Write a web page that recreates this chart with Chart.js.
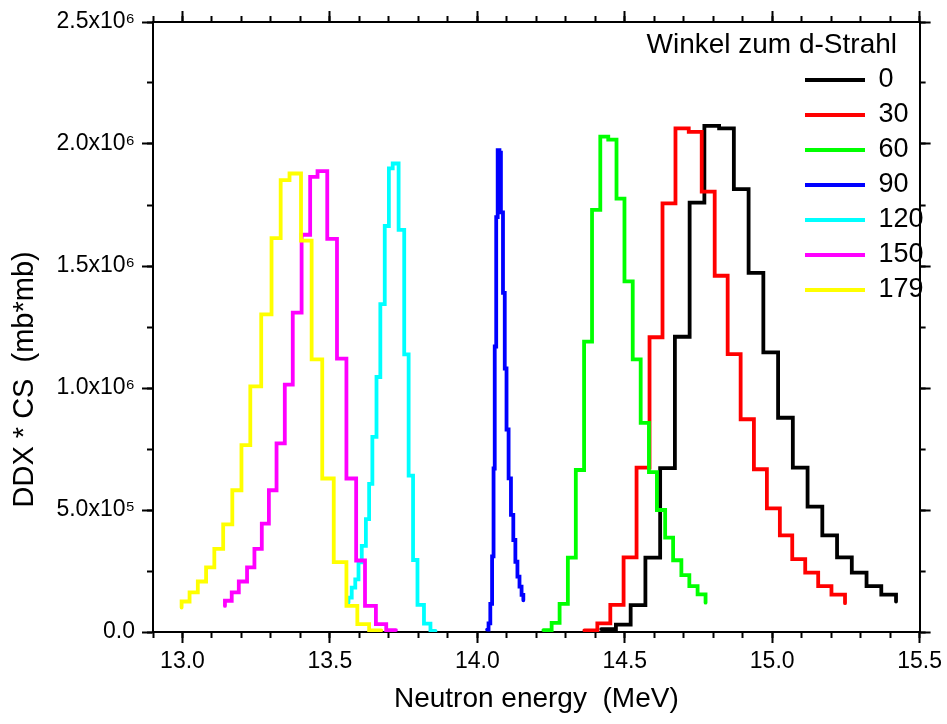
<!DOCTYPE html>
<html>
<head>
<meta charset="utf-8">
<script src="https://cdn.jsdelivr.net/npm/chart.js@4/dist/chart.umd.min.js"></script>
<style>
html, body { margin: 0; padding: 0; background: #ffffff; }
canvas { display: block; }
</style>
</head>
<body>
<canvas id="c" width="947" height="724"></canvas>
<script>
// ---------- axis ticks ----------
const xTickValues = [13.0, 13.5, 14.0, 14.5, 15.0, 15.5];
const xTickLabels = ['13.0', '13.5', '14.0', '14.5', '15.0', '15.5'];
const yTickValues = [0, 5e5, 1e6, 1.5e6, 2e6, 2.5e6];
const yTickLabels = ['0.0', '5.0x10\u2075', '1.0x10\u2076', '1.5x10\u2076', '2.0x10\u2076', '2.5x10\u2076'];

// ---------- series (neutron energy in MeV, DDX*CS in mb*mb) ----------
const angleLabels = ['0', '30', '60', '90', '120', '150', '179'];
const angleColors = ['#000000', '#ff0000', '#00ff00', '#0000ff', '#00ffff', '#ff00ff', '#ffff00'];

const energy0 = [14.42, 14.47, 14.52, 14.57, 14.62, 14.67, 14.72, 14.77, 14.82, 14.87, 14.92, 14.97, 15.02, 15.07, 15.12, 15.17, 15.22, 15.27, 15.32, 15.37, 15.42];
const ddx0 = [0.012e6, 0.03e6, 0.11e6, 0.305e6, 0.672e6, 1.21e6, 1.76e6, 2.074e6, 2.064e6, 1.815e6, 1.472e6, 1.146e6, 0.878e6, 0.674e6, 0.514e6, 0.396e6, 0.306e6, 0.243e6, 0.188e6, 0.153e6, 0.125e6];

const energy30 = [14.363, 14.407, 14.451, 14.496, 14.540, 14.584, 14.628, 14.672, 14.717, 14.761, 14.805, 14.849, 14.893, 14.938, 14.982, 15.026, 15.068, 15.112, 15.156, 15.201, 15.247];
const ddx30 = [0.007e6, 0.035e6, 0.111e6, 0.306e6, 0.674e6, 1.208e6, 1.757e6, 2.064e6, 2.05e6, 1.805e6, 1.46e6, 1.139e6, 0.872e6, 0.667e6, 0.507e6, 0.396e6, 0.299e6, 0.243e6, 0.188e6, 0.153e6, 0.118e6];

const energy60 = [14.224, 14.252, 14.279, 14.307, 14.334, 14.362, 14.389, 14.417, 14.444, 14.472, 14.499, 14.527, 14.554, 14.582, 14.609, 14.637, 14.664, 14.692, 14.719, 14.747, 14.774];
const ddx60 = [0.008e6, 0.037e6, 0.115e6, 0.305e6, 0.664e6, 1.19e6, 1.73e6, 2.03e6, 2.018e6, 1.776e6, 1.437e6, 1.117e6, 0.857e6, 0.655e6, 0.5e6, 0.387e6, 0.294e6, 0.233e6, 0.188e6, 0.154e6, 0.12e6];

const energy90 = [14.033, 14.038, 14.044, 14.050, 14.055, 14.059, 14.064, 14.069, 14.075, 14.080, 14.087, 14.093, 14.099, 14.106, 14.114, 14.122, 14.129, 14.136, 14.143, 14.150, 14.156];
const ddx90 = [0.01e6, 0.035e6, 0.115e6, 0.31e6, 0.67e6, 1.17e6, 1.7e6, 1.975e6, 1.965e6, 1.72e6, 1.39e6, 1.08e6, 0.83e6, 0.63e6, 0.48e6, 0.377e6, 0.288e6, 0.227e6, 0.186e6, 0.152e6, 0.13e6];

const energy120 = [13.858, 13.841, 13.819, 13.797, 13.782, 13.767, 13.752, 13.733, 13.713, 13.700, 13.686, 13.671, 13.658, 13.644, 13.633, 13.622, 13.608, 13.597, 13.586, 13.574, 13.563];
const ddx120 = [0.005e6, 0.034e6, 0.111e6, 0.295e6, 0.641e6, 1.138e6, 1.648e6, 1.92e6, 1.9e6, 1.664e6, 1.344e6, 1.045e6, 0.8e6, 0.607e6, 0.463e6, 0.353e6, 0.285e6, 0.216e6, 0.182e6, 0.141e6, 0.12e6];

const energy150 = [13.724, 13.691, 13.656, 13.619, 13.589, 13.556, 13.524, 13.491, 13.458, 13.433, 13.404, 13.374, 13.347, 13.319, 13.293, 13.269, 13.244, 13.219, 13.191, 13.167, 13.144];
const ddx150 = [0.008e6, 0.032e6, 0.107e6, 0.293e6, 0.629e6, 1.12e6, 1.611e6, 1.889e6, 1.865e6, 1.628e6, 1.309e6, 1.014e6, 0.773e6, 0.581e6, 0.444e6, 0.341e6, 0.265e6, 0.207e6, 0.162e6, 0.128e6, 0.107e6];

const energy179 = [13.674, 13.633, 13.593, 13.556, 13.513, 13.474, 13.438, 13.402, 13.363, 13.333, 13.302, 13.267, 13.230, 13.200, 13.169, 13.138, 13.108, 13.080, 13.052, 13.024, 12.997];
const ddx179 = [0.007e6, 0.032e6, 0.107e6, 0.286e6, 0.629e6, 1.117e6, 1.604e6, 1.879e6, 1.852e6, 1.614e6, 1.302e6, 1.007e6, 0.766e6, 0.581e6, 0.441e6, 0.341e6, 0.265e6, 0.207e6, 0.162e6, 0.125e6, 0.10e6];

const energies = [energy0, energy30, energy60, energy90, energy120, energy150, energy179];
const ddxs = [ddx0, ddx30, ddx60, ddx90, ddx120, ddx150, ddx179];

// ---------- chart ----------
Chart.defaults.font.family = 'Arial, "Liberation Sans", Helvetica, sans-serif';
Chart.defaults.color = '#000000';

const X_MIN = 12.9, X_MAX = 15.5, Y_MIN = 0, Y_MAX = 2.5e6;

const datasets = angleLabels.map((lab, i) => ({
  label: lab,
  data: energies[i].map((e, k) => ({ x: e, y: ddxs[i][k] })),
  borderColor: angleColors[i],
  backgroundColor: angleColors[i],
  borderWidth: 3.8,
  pointRadius: 0,
  pointHoverRadius: 0,
  stepped: 'before',
  fill: false,
  tension: 0,
  borderJoinStyle: 'miter',
  borderCapStyle: 'round',
  order: angleLabels.length - i
}));

function tickGrid(len) {
  return { drawOnChartArea: false, drawTicks: true, tickLength: len, tickWidth: 2, tickColor: '#000000' };
}
const axisBorder = { display: true, color: '#000000', width: 2 };
const noBorder = { display: false };

// place the legend block (title + entries) in the upper right of the plot
const legendPlace = {
  id: 'legendPlace',
  afterLayout(chart) {
    const lg = chart.legend;
    if (!lg) return;
    lg.left = 797;
    lg.width = 100;
    lg.right = 897;
    lg.top = 31.5;
    lg.height = 560;
    lg.bottom = 591.5;
    if (!lg._noClip) {
      lg._noClip = true;
      lg.draw = function () { if (this.options.display) this._draw(); };
    }
  }
};

const whiteBg = {
  id: 'whiteBg',
  beforeDraw(chart) {
    const ctx = chart.ctx;
    ctx.save();
    ctx.fillStyle = '#ffffff';
    ctx.fillRect(0, 0, chart.width, chart.height);
    ctx.restore();
  }
};

new Chart(document.getElementById('c'), {
  type: 'line',
  data: { datasets },
  plugins: [whiteBg, legendPlace],
  options: {
    responsive: false,
    animation: false,
    devicePixelRatio: 1,
    events: [],
    layout: { padding: 0, autoPadding: false },
    plugins: {
      tooltip: { enabled: false },
      title: { display: false },
      legend: {
        display: true,
        position: 'chartArea',
        align: 'start',
        title: {
          display: true,
          text: 'Winkel zum d-Strahl',
          position: 'end',
          color: '#000000',
          font: { size: 28, lineHeight: 1 },
          padding: { top: 0, bottom: -1 }
        },
        labels: {
          boxWidth: 60,
          boxHeight: 4,
          padding: 8,
          color: '#000000',
          font: { size: 27 },
          sort: (a, b) => a.datasetIndex - b.datasetIndex,
          generateLabels: (chart) =>
            Chart.defaults.plugins.legend.labels.generateLabels(chart).map(l => ({
              ...l, fillStyle: l.strokeStyle, lineWidth: 0
            }))
        }
      }
    },
    scales: {
      x: {
        type: 'linear', position: 'bottom', min: X_MIN, max: X_MAX, weight: 1,
        afterBuildTicks: s => { s.ticks = xTickValues.map(v => ({ value: v })); },
        afterFit: s => { s.height = 92; },
        ticks: {
          autoSkip: false, maxRotation: 0, minRotation: 0, padding: 5,
          font: { size: 23 }, color: '#000000',
          callback: (v, i) => xTickLabels[i]
        },
        grid: tickGrid(11),
        border: axisBorder,
        title: {
          display: true, text: 'Neutron energy  (MeV)', color: '#000000',
          font: { size: 28 }, padding: { top: 0, bottom: 8 }
        }
      },
      xMinor: {
        type: 'linear', position: 'bottom', min: X_MIN, max: X_MAX, weight: 0,
        afterFit: s => { s.height = 0; },
        ticks: { display: false, stepSize: 0.1 },
        grid: tickGrid(6),
        border: noBorder
      },
      xTop: {
        type: 'linear', position: 'top', min: X_MIN, max: X_MAX, weight: 1,
        afterBuildTicks: s => { s.ticks = xTickValues.map(v => ({ value: v })); },
        afterFit: s => { s.height = 22; },
        ticks: { display: false },
        grid: tickGrid(11),
        border: axisBorder
      },
      xTopMinor: {
        type: 'linear', position: 'top', min: X_MIN, max: X_MAX, weight: 0,
        afterFit: s => { s.height = 0; },
        ticks: { display: false, stepSize: 0.1 },
        grid: tickGrid(6),
        border: noBorder
      },
      y: {
        type: 'linear', position: 'left', min: Y_MIN, max: Y_MAX, weight: 1,
        afterBuildTicks: s => { s.ticks = yTickValues.map(v => ({ value: v })); },
        afterFit: s => { s.width = 153; },
        ticks: {
          padding: 7, font: { size: 23 }, color: '#000000',
          callback: (v, i) => yTickLabels[i]
        },
        grid: tickGrid(11),
        border: axisBorder,
        title: {
          display: true, text: 'DDX * CS  (mb*mb)             ', color: '#000000',
          font: { size: 29 }, padding: { top: 8, bottom: 0 }
        }
      },
      yMinor: {
        type: 'linear', position: 'left', min: Y_MIN, max: Y_MAX, weight: 0,
        afterFit: s => { s.width = 0; },
        ticks: { display: false, stepSize: 0.25e6 },
        grid: tickGrid(6),
        border: noBorder
      },
      yRight: {
        type: 'linear', position: 'right', min: Y_MIN, max: Y_MAX, weight: 1,
        afterBuildTicks: s => { s.ticks = yTickValues.map(v => ({ value: v })); },
        afterFit: s => { s.width = 15; },
        ticks: { display: false },
        grid: tickGrid(11),
        border: axisBorder
      },
      yRightMinor: {
        type: 'linear', position: 'right', min: Y_MIN, max: Y_MAX, weight: 0,
        afterFit: s => { s.width = 0; },
        ticks: { display: false, stepSize: 0.25e6 },
        grid: tickGrid(6),
        border: noBorder
      }
    }
  }
});
</script>
</body>
</html>
